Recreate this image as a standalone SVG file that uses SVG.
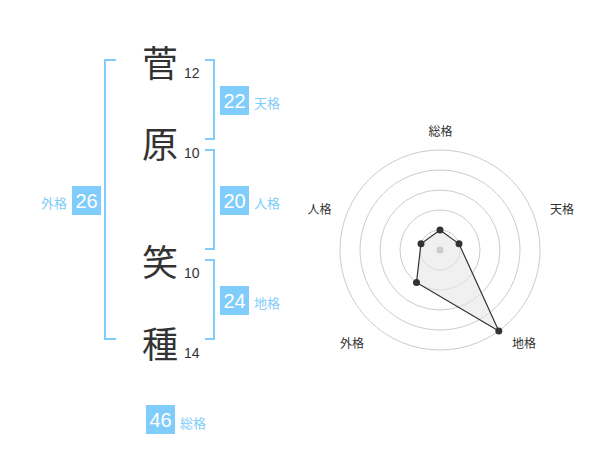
<svg xmlns="http://www.w3.org/2000/svg" width="600" height="470" viewBox="0 0 600 470">
<style>
.kanji{font-family:"Noto Sans CJK JP","Noto Sans CJK SC",sans-serif;font-size:36px;fill:#333;text-anchor:middle;dominant-baseline:central}
.num{font-family:"Liberation Sans",Arial,sans-serif;font-size:14px;fill:#333}
.br{fill:none;stroke:#80cdfb;stroke-width:2}
.box{fill:#80cdfb}
.bn{font-family:"Liberation Sans",Arial,sans-serif;font-size:20px;fill:#fff;text-anchor:middle;dominant-baseline:central}
.lab{font-family:"Noto Sans CJK JP","Noto Sans CJK SC",sans-serif;font-size:13px;fill:#80cdfb;dominant-baseline:central}
.rl{font-family:"Noto Sans CJK JP","Noto Sans CJK SC",sans-serif;font-size:12px;fill:#333;text-anchor:middle;dominant-baseline:central}
.ring{fill:none;stroke:#ccc;stroke-width:1}
.pt{fill:#333}
</style>
<rect width="600" height="470" fill="#fff"/>
<g id="chars">
<g id="c1"><text class="kanji" x="160" y="61">菅</text><text class="num" x="184" y="78">12</text></g>
<g id="c2"><text class="kanji" x="160" y="142">原</text><text class="num" x="184" y="158">10</text></g>
<g id="c3"><text class="kanji" x="160" y="260">笑</text><text class="num" x="184" y="278">10</text></g>
<g id="c4"><text class="kanji" x="160" y="342">種</text><text class="num" x="184" y="358">14</text></g>
</g>
<g id="connectors">
<path class="br" d="M116,60 H105 V339 H116"/>
<path class="br" d="M205,60 H214 V139 H205"/>
<path class="br" d="M205,150 H214 V249 H205"/>
<path class="br" d="M205,260 H214 V339 H205"/>
</g>
<g id="tenkaku"><rect class="box" x="220" y="86" width="29" height="29"/><text class="bn" x="234.5" y="101">22</text><text class="lab" x="254" y="102">天格</text></g>
<g id="jinkaku"><rect class="box" x="220" y="186" width="29" height="29"/><text class="bn" x="234.5" y="201">20</text><text class="lab" x="254" y="202">人格</text></g>
<g id="chikaku"><rect class="box" x="220" y="286" width="29" height="29"/><text class="bn" x="234.5" y="301">24</text><text class="lab" x="254" y="302">地格</text></g>
<g id="gaikaku"><rect class="box" x="72" y="186" width="29" height="29"/><text class="bn" x="86.5" y="201">26</text><text class="lab" x="41" y="202">外格</text></g>
<g id="soukaku"><rect class="box" x="146" y="405" width="29" height="29"/><text class="bn" x="160.5" y="420">46</text><text class="lab" x="180" y="422">総格</text></g>
<g id="radar">
<circle class="ring" cx="440" cy="250" r="20"/>
<circle class="ring" cx="440" cy="250" r="40"/>
<circle class="ring" cx="440" cy="250" r="60"/>
<circle class="ring" cx="440" cy="250" r="80"/>
<circle class="ring" cx="440" cy="250" r="100"/>
<polygon points="440,230 459,243.8 498.8,330.9 416.5,282.4 421,243.8" fill="#e6e6e6" fill-opacity="0.6" stroke="#333" stroke-width="1.2"/>
<circle cx="440" cy="250" r="3.5" fill="#ccc"/>
<circle class="pt" cx="440" cy="230" r="3.5"/>
<circle class="pt" cx="459" cy="243.8" r="3.5"/>
<circle class="pt" cx="498.8" cy="330.9" r="3.5"/>
<circle class="pt" cx="416.5" cy="282.4" r="3.5"/>
<circle class="pt" cx="421" cy="243.8" r="3.5"/>
<text class="rl" x="440.5" y="130.5">総格</text>
<text class="rl" x="562" y="208.5">天格</text>
<text class="rl" x="319.5" y="208.5">人格</text>
<text class="rl" x="352" y="342">外格</text>
<text class="rl" x="524" y="342">地格</text>
</g>
</svg>
